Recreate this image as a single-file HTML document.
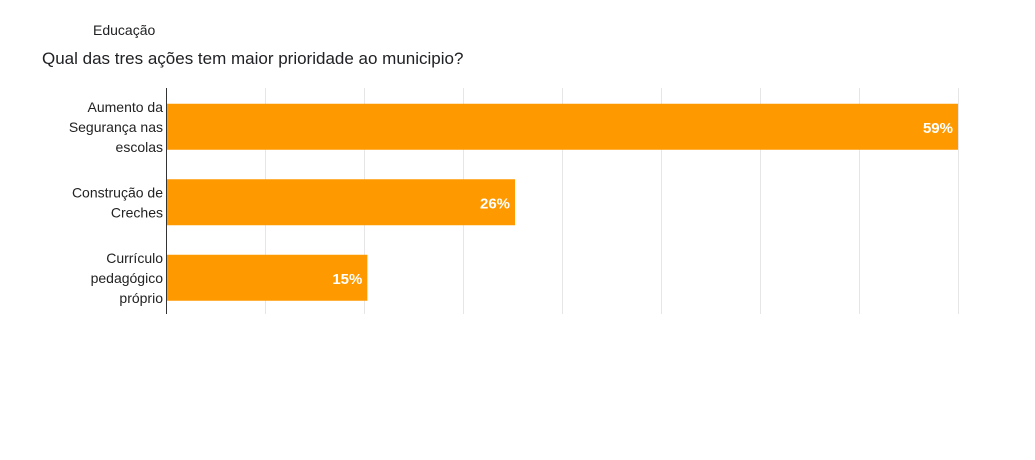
<!DOCTYPE html>
<html><head><meta charset="utf-8"><style>
body{margin:0;background:#fff;width:1035px;height:455px;overflow:hidden;font-family:"Liberation Sans",sans-serif}
</style></head><body>
<svg width="1035" height="455" xmlns="http://www.w3.org/2000/svg">
<text x="93" y="35" font-size="14" fill="#202124">Educação</text>
<text x="42" y="64" font-size="17" fill="#202124">Qual das tres ações tem maior prioridade ao municipio?</text>
<g id="grid"></g><g id="bars"></g><g id="labels"></g>
<line x1="166.5" y1="88" x2="166.5" y2="314" stroke="#333" stroke-width="1"/>
</svg>
<script>
const categories=[["Aumento da","Segurança nas","escolas"],["Construção de","Creches"],["Currículo","pedagógico","próprio"]];
const values=[59,26,15];
const valueLabels=["59%","26%","15%"];
const ns="http://www.w3.org/2000/svg";
const x0=166,x1=958,maxV=59,nGrid=8;
const xs=v=>x0+(v/maxV)*(x1-x0);
const rowTop=88,rowH=75.5,barH=46;
const yc=i=>rowTop+rowH*i+rowH/2+1;
const g=document.getElementById('grid'),b=document.getElementById('bars'),l=document.getElementById('labels');
for(let k=1;k<=nGrid;k++){const x=x0+(x1-x0)*k/nGrid;const ln=document.createElementNS(ns,'line');
ln.setAttribute('x1',x+.5);ln.setAttribute('x2',x+.5);ln.setAttribute('y1',88);ln.setAttribute('y2',314);ln.setAttribute('stroke','#e6e6e6');


g.appendChild(ln);}
values.forEach((v,i)=>{
const r=document.createElementNS(ns,'rect');
r.setAttribute('x',x0);r.setAttribute('y',yc(i)-barH/2);r.setAttribute('width',xs(v)-x0);r.setAttribute('height',barH);r.setAttribute('fill','#ff9900');


b.appendChild(r);
const t=document.createElementNS(ns,'text');
t.setAttribute('x',xs(v)-5);t.setAttribute('y',yc(i)+6);t.setAttribute('text-anchor','end');t.setAttribute('fill','#fff');t.setAttribute('font-size','15');t.setAttribute('font-weight','bold');
t.textContent=valueLabels[i];


l.appendChild(t);
const lines=categories[i];
lines.forEach((s,j)=>{const c=document.createElementNS(ns,'text');
c.setAttribute('x',163);c.setAttribute('y',yc(i)+5+(j-(lines.length-1)/2)*20);c.setAttribute('text-anchor','end');c.setAttribute('font-size','14');c.setAttribute('fill','#222');
c.textContent=s;


l.appendChild(c);});
});
</script>
</body></html>
